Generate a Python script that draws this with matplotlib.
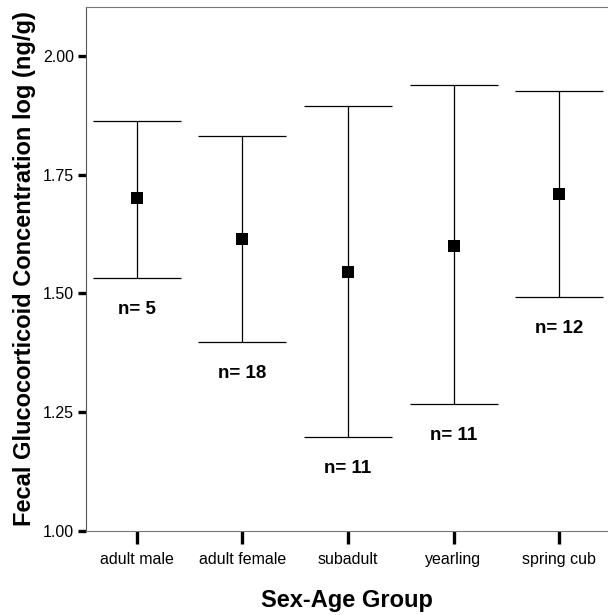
import matplotlib
matplotlib.use("Agg")
import matplotlib.pyplot as plt
import numpy as np

groups = ["adult male", "adult female", "subadult", "yearling", "spring cub"]
means = [1.700, 1.615, 1.545, 1.600, 1.709]
upper = [1.864, 1.832, 1.895, 1.939, 1.926]
lower = [1.532, 1.398, 1.198, 1.267, 1.493]
n_labels = ["n= 5", "n= 18", "n= 11", "n= 11", "n= 12"]
yticks = [1.00, 1.25, 1.50, 1.75, 2.00]

plt.rcParams['font.family'] = ['Liberation Sans', 'DejaVu Sans']

fig = plt.figure(figsize=(6.08, 6.15), dpi=100)
ax = fig.add_axes([86/608, 1-531/615, 1-86/608, (531-7)/615])

x = np.arange(len(groups))
m = np.array(means)
yerr = np.vstack([m - np.array(lower), np.array(upper) - m])
ax.errorbar(x, m, yerr=yerr, fmt='none', ecolor='black',
            elinewidth=0.9, capsize=32, capthick=0.9)
ax.plot(x, m, linestyle='none', marker='s', color='black',
        markersize=8.6, markeredgewidth=0)

for xi, lo, lab in zip(x, lower, n_labels):
    ax.annotate(lab, (xi, lo), xytext=(0, -22.5), textcoords='offset points',
                ha='center', va='center', fontsize=13.5, fontweight='bold')

ax.set_xlim(-0.483, 4.464)
ax.set_ylim(1.0, 2.103)
ax.set_xticks(x)
ax.set_xticklabels(groups, fontsize=11.5)
ax.set_yticks(yticks)
ax.set_yticklabels([f"{v:.2f}" for v in yticks], fontsize=11.5)
ax.tick_params(axis='x', length=9, width=2.4, direction='out', pad=6)
ax.tick_params(axis='y', length=5.5, width=2.4, direction='out', pad=3)

ax.spines['right'].set_visible(False)
ax.spines['left'].set_color('#555555')
ax.spines['left'].set_linewidth(0.8)
for s in ['top', 'bottom']:
    ax.spines[s].set_color('#777777')
    ax.spines[s].set_linewidth(0.8)
    ax.spines[s].set_linestyle((0, (2, 1)))

ax.set_xlabel("Sex-Age Group", fontsize=17, fontweight='bold', labelpad=16)
ax.set_ylabel("Fecal Glucocorticoid Concentration log (ng/g)", fontsize=17,
              fontweight='bold', labelpad=5)

fig.savefig("out.png", dpi=100)
